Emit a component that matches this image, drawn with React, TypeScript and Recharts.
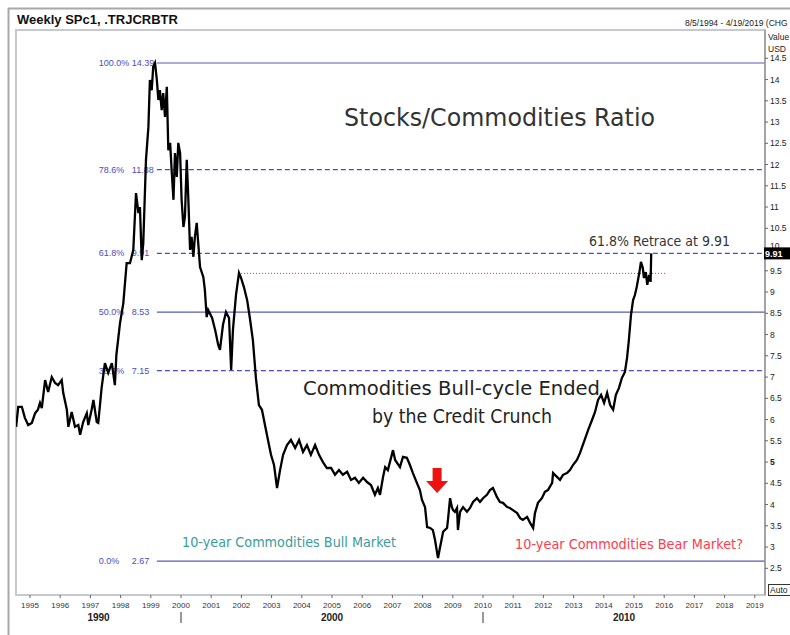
import React from 'react';
import { ComposedChart, Line, XAxis, YAxis, ReferenceLine, ReferenceDot } from 'recharts';

// weekly SPc1 / .TRJCRBTR ratio (decimal years)
const years = [
  1994.54, 1994.61, 1994.73, 1994.83, 1994.94, 1995.06, 1995.17, 1995.26, 1995.33, 1995.39,
  1995.5, 1995.6, 1995.72, 1995.83, 1995.93, 1996.05, 1996.1, 1996.22, 1996.27, 1996.38,
  1996.49, 1996.6, 1996.66, 1996.76, 1996.88, 1996.93, 1997.04, 1997.1, 1997.21, 1997.26,
  1997.37, 1997.48, 1997.59, 1997.71, 1997.81, 1997.86, 1997.98, 1998.09, 1998.2, 1998.31,
  1998.42, 1998.51, 1998.59, 1998.64, 1998.7, 1998.75, 1998.84, 1998.92, 1998.97, 1999.03,
  1999.08, 1999.14, 1999.2, 1999.25, 1999.3, 1999.36, 1999.41, 1999.47, 1999.53, 1999.58,
  1999.64, 1999.69, 1999.75, 1999.8, 1999.86, 1999.91, 1999.97, 2000.02, 2000.08, 2000.13,
  2000.19, 2000.24, 2000.3, 2000.35, 2000.41, 2000.46, 2000.52, 2000.57, 2000.63, 2000.74,
  2000.79, 2000.85, 2000.9, 2001.03, 2001.13, 2001.23, 2001.29, 2001.39, 2001.49, 2001.59,
  2001.66, 2001.72, 2001.82, 2001.92, 2001.99, 2002.09, 2002.19, 2002.28, 2002.38, 2002.48,
  2002.58, 2002.68, 2002.78, 2002.88, 2002.98, 2003.08, 2003.18, 2003.28, 2003.38, 2003.51,
  2003.64, 2003.78, 2003.91, 2004.04, 2004.17, 2004.3, 2004.44, 2004.57, 2004.7, 2004.83,
  2004.97, 2005.1, 2005.23, 2005.36, 2005.5, 2005.63, 2005.76, 2005.89, 2006.03, 2006.16,
  2006.29, 2006.42, 2006.52, 2006.59, 2006.69, 2006.76, 2006.85, 2007.02, 2007.09, 2007.25,
  2007.35, 2007.48, 2007.58, 2007.68, 2007.81, 2007.91, 2007.98, 2008.08, 2008.15, 2008.25,
  2008.34, 2008.41, 2008.51, 2008.58, 2008.68, 2008.81, 2008.84, 2008.91, 2008.97, 2009.01,
  2009.07, 2009.14, 2009.17, 2009.24, 2009.34, 2009.47, 2009.57, 2009.67, 2009.8, 2009.9,
  2010.0, 2010.13, 2010.23, 2010.33, 2010.46, 2010.56, 2010.66, 2010.8, 2010.89, 2010.99,
  2011.13, 2011.23, 2011.32, 2011.46, 2011.56, 2011.66, 2011.72, 2011.82, 2011.95, 2012.05,
  2012.15, 2012.29, 2012.32, 2012.45, 2012.55, 2012.65, 2012.78, 2012.88, 2012.98, 2013.11,
  2013.21, 2013.34, 2013.48, 2013.61, 2013.71, 2013.81, 2013.91, 2014.01, 2014.11, 2014.21,
  2014.31, 2014.4, 2014.5, 2014.6, 2014.7, 2014.77, 2014.83, 2014.9, 2014.97, 2015.03,
  2015.09, 2015.18, 2015.23, 2015.29, 2015.33, 2015.39, 2015.44, 2015.5, 2015.55, 2015.57,
];

const ratio = [
  5.83, 6.3, 6.3, 6.04, 5.87, 5.92, 6.15, 6.23, 6.39, 6.27,
  6.93, 6.65, 7.0, 6.86, 6.81, 6.93, 6.63, 6.23, 5.83, 6.18,
  5.83, 5.87, 5.64, 5.94, 6.15, 5.87, 6.23, 6.46, 5.94, 5.92,
  6.74, 7.33, 7.1, 7.33, 6.81, 7.52, 8.27, 8.74, 9.68, 9.68,
  9.99, 11.33, 10.86, 11.0, 9.75, 10.15, 12.11, 12.88, 13.99, 13.75,
  14.3, 14.39, 13.99, 13.52, 13.75, 13.28, 13.68, 13.12, 13.83, 12.34,
  12.51, 11.87, 11.17, 12.27, 11.71, 12.51, 12.27, 11.17, 10.53, 10.77,
  12.11, 11.24, 9.99, 10.3, 9.83, 10.3, 10.63, 10.15, 9.59, 9.35,
  9.05, 8.41, 8.58, 8.39, 8.11, 7.76, 7.64, 8.23, 8.53, 8.39,
  7.17, 8.11, 8.93, 9.45, 9.33, 9.1, 8.81, 8.39, 7.87, 6.98,
  6.34, 6.23, 5.87, 5.52, 5.17, 4.93, 4.39, 4.81, 5.17, 5.4,
  5.52, 5.33, 5.52, 5.24, 5.4, 5.17, 5.4, 5.17, 5.0, 4.86,
  4.86, 4.7, 4.81, 4.7, 4.77, 4.58, 4.63, 4.51, 4.63, 4.53,
  4.46, 4.23, 4.39, 4.23, 4.65, 4.88, 4.81, 5.28, 5.05, 4.88,
  5.12, 5.1, 4.93, 4.74, 4.51, 4.34, 4.11, 3.94, 3.47, 3.45,
  3.4, 3.17, 2.74, 3.0, 3.36, 3.45, 3.64, 4.15, 3.94, 3.87,
  3.83, 3.92, 3.4, 3.83, 3.94, 3.83, 3.92, 4.06, 4.15, 4.06,
  4.15, 4.23, 4.34, 4.39, 4.18, 4.06, 4.04, 3.94, 3.92, 3.87,
  3.8, 3.68, 3.64, 3.71, 3.57, 3.45, 3.8, 4.04, 4.15, 4.3,
  4.34, 4.51, 4.74, 4.65, 4.58, 4.7, 4.74, 4.81, 4.93, 5.05,
  5.21, 5.47, 5.75, 5.99, 6.18, 6.46, 6.58, 6.39, 6.63, 6.34,
  6.23, 6.58, 6.74, 6.98, 7.12, 7.45, 7.87, 8.46, 8.81, 8.93,
  9.12, 9.47, 9.71, 9.57, 9.33, 9.47, 9.17, 9.4, 9.24, 9.91,
];

const yearTicks = [
  1995, 1996, 1997, 1998, 1999, 2000, 2001, 2002, 2003, 2004, 2005, 2006, 2007,
  2008, 2009, 2010, 2011, 2012, 2013, 2014, 2015, 2016, 2017, 2018, 2019,
];
const valueTicks = [
  2.5, 3, 3.5, 4, 4.5, 5, 5.5, 6, 6.5, 7, 7.5, 8, 8.5, 9, 9.5, 10,
  10.5, 11, 11.5, 12, 12.5, 13, 13.5, 14, 14.5, 9.91,
];
const decadeTicks = [1997.27, 2000, 2005, 2010, 2014.67];
const decadeNames: Record<string, string> = { '1997.27': '1990', '2005': '2000', '2014.67': '2010' };

const fibPct = ['100.0%', '78.6%', '61.8%', '50.0%', '38.2%', '0.0%'];
const fibLevel = [14.39, 11.88, 9.91, 8.53, 7.15, 2.67];
const fibDashed = [false, true, true, false, true, false];

const X_MIN = 1994.536;
const X_MAX = 2019.338;
const FIB_START = 1999.2;

const FONT = '"Liberation Sans", Arial, sans-serif';
const NOTE_FONT = '"DejaVu Sans", sans-serif';
const FIB_COLOR = '#4b4bc4';

const data = years.map((t, i) => ({ t, v: ratio[i] }));

const ValueTick = (props: any) => {
  const { x, y, payload } = props;
  const v = payload.value;
  if (v === 9.91) {
    return (
      <g>
        <rect x={x - 6} y={y - 6} width={26} height={12} fill="#000" />
        <text x={x - 5} y={y + 3.5} fontFamily={FONT} fontSize={9} fontWeight="bold" fill="#fff">9.91</text>
      </g>
    );
  }
  // the "10" label sits under the 9.91 marker box, only its top shows
  const yy = v === 10 ? y - 1 : y + 3;
  return (
    <text x={x} y={yy} fontFamily={FONT} fontSize={8.5} fontWeight={v === 5 ? 'bold' : 'normal'} fill="#222">
      {v}
    </text>
  );
};

const DecadeTick = (props: any) => {
  const { x, y, payload } = props;
  const v = payload.value;
  if (v === 2000 || v === 2010) {
    return <line x1={x} y1={y + 3} x2={x} y2={y + 14} stroke="#333" strokeWidth={1} />;
  }
  return (
    <text x={x} y={y + 12} textAnchor="middle" fontFamily={FONT} fontSize={10} fontWeight="bold" fill="#222">
      {decadeNames[String(v)]}
    </text>
  );
};

const fibLabel = (i: number) => (props: any) => {
  const vb = props.viewBox || {};
  const y = vb.y + 3;
  return (
    <g>
      <text x={vb.x - 58} y={y} fontFamily={FONT} fontSize={9} fill={FIB_COLOR}>{fibPct[i]}</text>
      <text x={vb.x - 25} y={y} fontFamily={FONT} fontSize={9} fill={FIB_COLOR}>{fibLevel[i].toFixed(2)}</text>
    </g>
  );
};

const DownArrow = (props: any) => {
  const { cx, cy } = props;
  const d = `M${cx - 4.5},${cy - 12} L${cx + 4.5},${cy - 12} L${cx + 4.5},${cy + 1} L${cx + 11},${cy + 1} L${cx},${cy + 13} L${cx - 11},${cy + 1} L${cx - 4.5},${cy + 1} Z`;
  return <path d={d} fill="#ee1111" />;
};

export default function App() {
  return (
    <div style={{ position: 'absolute', left: 0, top: 0, width: 790, height: 635, background: '#fff', overflow: 'hidden' }}>
      <svg width={790} height={635} style={{ position: 'absolute', left: 0, top: 0 }}>
        <line x1={8} y1={8.5} x2={790} y2={8.5} stroke="#a8a8a8" strokeWidth={2} />
        <line x1={8.5} y1={8} x2={8.5} y2={635} stroke="#a8a8a8" strokeWidth={2} />
        <rect x={16} y={30} width={749} height={565} fill="none" stroke="#c8c8d0" strokeWidth={2} />
        <text x={17} y={24} fontFamily={FONT} fontSize={13} fontWeight="bold" fill="#111">Weekly SPc1, .TRJCRBTR</text>
        <text x={685} y={25.5} fontFamily={FONT} fontSize={8.5} fill="#222">8/5/1994 - 4/19/2019 (CHG</text>
        <text x={768} y={40} fontFamily={FONT} fontSize={8.5} fill="#222">Value</text>
        <text x={768} y={52} fontFamily={FONT} fontSize={8.5} fill="#222">USD</text>
        <rect x={768.5} y={584.5} width={23} height={11} fill="#fff" stroke="#333" strokeWidth={1} />
        <text x={770} y={593} fontFamily={FONT} fontSize={8.5} fill="#222">Auto</text>
      </svg>
      <div style={{ position: 'absolute', left: 0, top: 0 }}>
        <ComposedChart width={790} height={635} data={data} margin={{ top: 30, left: 16, right: 0, bottom: 10 }}>
          <XAxis
            dataKey="t"
            type="number"
            domain={[X_MIN, X_MAX]}
            allowDataOverflow
            ticks={yearTicks}
            height={14}
            axisLine={false}
            tickSize={3}
            tickMargin={4}
            tickLine={{ stroke: '#666' }}
            tick={{ fontSize: 8, fill: '#333', fontFamily: FONT }}
            interval={0}
          />
          <XAxis
            xAxisId="dec"
            dataKey="t"
            type="number"
            domain={[X_MIN, X_MAX]}
            allowDataOverflow
            ticks={decadeTicks}
            height={16}
            axisLine={false}
            tickLine={false}
            tickSize={0}
            tickMargin={0}
            tick={<DecadeTick />}
            interval={0}
          />
          <YAxis
            orientation="right"
            type="number"
            domain={[1.872, 15.166]}
            allowDataOverflow
            ticks={valueTicks}
            width={25}
            interval={0}
            axisLine={{ stroke: '#999', strokeWidth: 1.5 }}
            tickLine={{ stroke: '#666' }}
            tickSize={3}
            tickMargin={2}
            tick={<ValueTick />}
          />
          {fibLevel.map((lv, i) => (
            <ReferenceLine
              key={fibPct[i]}
              segment={[{ x: FIB_START, y: lv }, { x: X_MAX, y: lv }]}
              stroke={fibDashed[i] ? '#4a4ad8' : '#5a5ab8'}
              strokeWidth={1.2}
              strokeDasharray={fibDashed[i] ? '5 3' : undefined}
              label={fibLabel(i)}
            />
          ))}
          <ReferenceLine
            segment={[{ x: 2001.89, y: 9.44 }, { x: 2016.06, y: 9.44 }]}
            stroke="#a04040"
            strokeWidth={1}
            strokeDasharray="1 2"
          />
          <Line
            dataKey="v"
            type="linear"
            stroke="#000"
            strokeWidth={2.3}
            dot={false}
            isAnimationActive={false}
          />
          <ReferenceDot x={2008.48} y={4.58} r={0} shape={<DownArrow />} />
        </ComposedChart>
      </div>
      <svg width={790} height={635} style={{ position: 'absolute', left: 0, top: 0, pointerEvents: 'none' }}>
        <g fontFamily={NOTE_FONT}>
          <text x={344} y={125.5} fontSize={24} fill="#333" textLength={311} lengthAdjust="spacingAndGlyphs">Stocks/Commodities Ratio</text>
          <text x={589} y={246} fontSize={14} fill="#333" textLength={141} lengthAdjust="spacingAndGlyphs">61.8% Retrace at 9.91</text>
          <text x={303} y={395} fontSize={20} fill="#222" textLength={297} lengthAdjust="spacingAndGlyphs">Commodities Bull-cycle Ended</text>
          <text x={372} y={423} fontSize={20} fill="#222" textLength={180} lengthAdjust="spacingAndGlyphs">by the Credit Crunch</text>
          <text x={182} y={547} fontSize={13.5} fill="#3a9c9c" textLength={214} lengthAdjust="spacingAndGlyphs">10-year Commodities Bull Market</text>
          <text x={515} y={549} fontSize={13.5} fill="#ff3b4e" textLength={228} lengthAdjust="spacingAndGlyphs">10-year Commodities Bear Market?</text>
        </g>
      </svg>
    </div>
  );
}
